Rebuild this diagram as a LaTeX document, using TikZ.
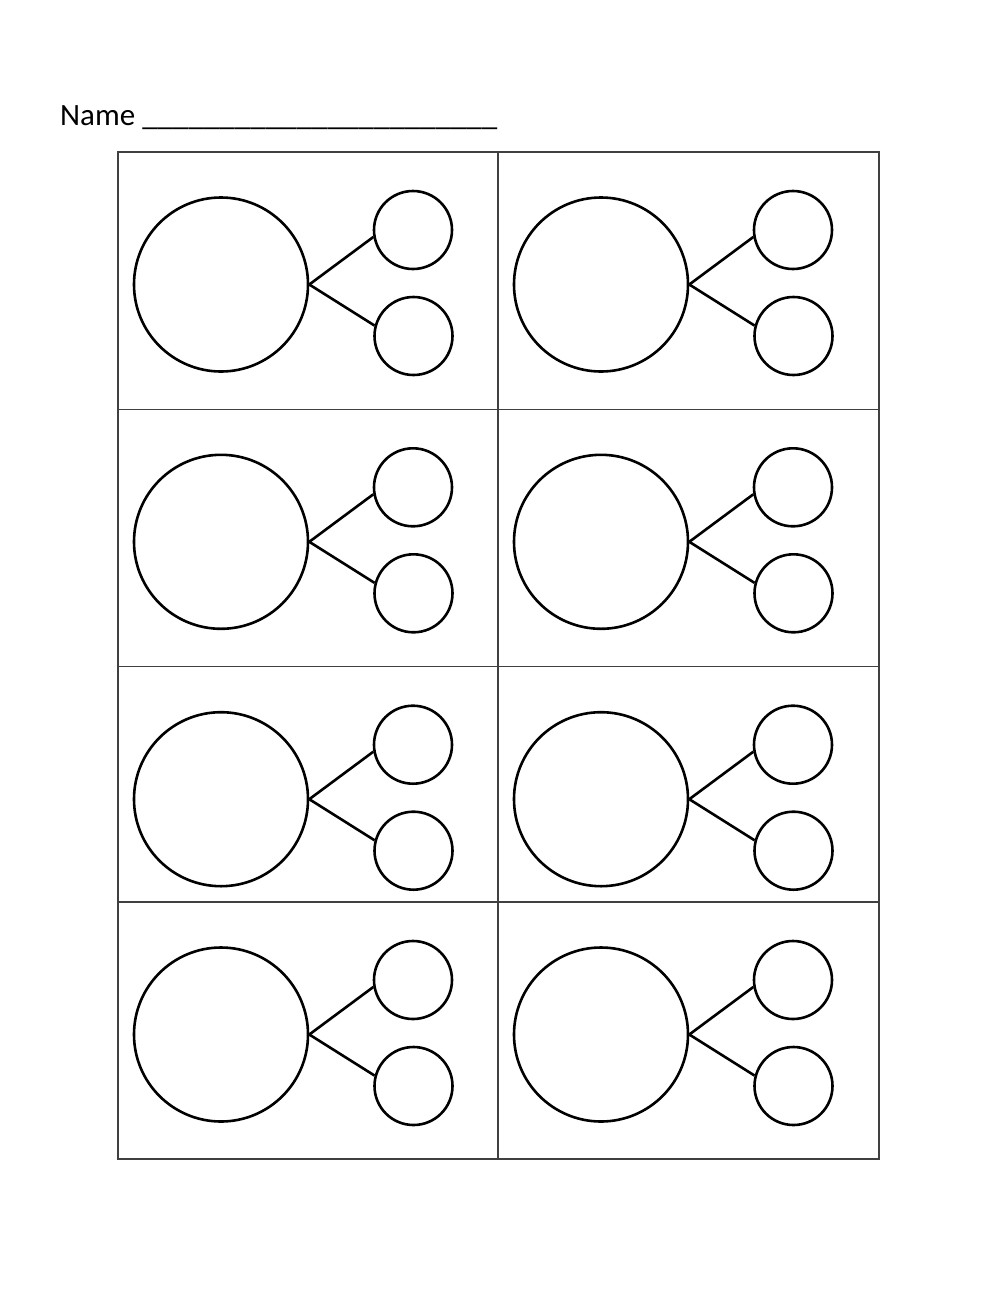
\documentclass[tikz,border=0pt]{standalone}
\usepackage{fontspec}
\setmainfont{Carlito}
\begin{document}
\begin{tikzpicture}[x=1pt,y=-1pt,
    wholecircle/.style={circle,draw,line width=2.6pt,minimum size=174pt,inner sep=0pt},
    partcircle/.style={circle,draw,line width=2.6pt,minimum size=78pt,inner sep=0pt},
    link/.style={line width=2.6pt},
    cellline/.style={draw=black!75,line width=1.2pt}]
  \useasboundingbox (0,0) rectangle (1000,1291);
  \node[anchor=base west,inner sep=0pt,font=\fontsize{31}{37}\selectfont] (name) at (60,125)
    {Name \_\_\_\_\_\_\_\_\_\_\_\_\_\_\_\_\_\_\_\_\_\_\_};
  % table
  \draw[cellline] (118,152) rectangle (879,1159);
  \draw[cellline] (498,152) -- (498,1159);
  \foreach \yl in {409.3,666.7,902}
    \draw[cellline] (118,\yl) -- (879,\yl);
  % number bonds
  \foreach \c/\xl in {1/118,2/498}
    \foreach \r/\yt in {1/152,2/409.3,3/666.7,4/902} {
      \node[wholecircle] (whole-\c-\r) at (\xl+103,\yt+132.5) {};
      \node[partcircle] (parta-\c-\r) at (\xl+295,\yt+78) {};
      \node[partcircle] (partb-\c-\r) at (\xl+295.5,\yt+184) {};
      \draw[link] (whole-\c-\r.east) -- (parta-\c-\r.190);
      \draw[link] (whole-\c-\r.east) -- (partb-\c-\r.165);
    }
\end{tikzpicture}
\end{document}
